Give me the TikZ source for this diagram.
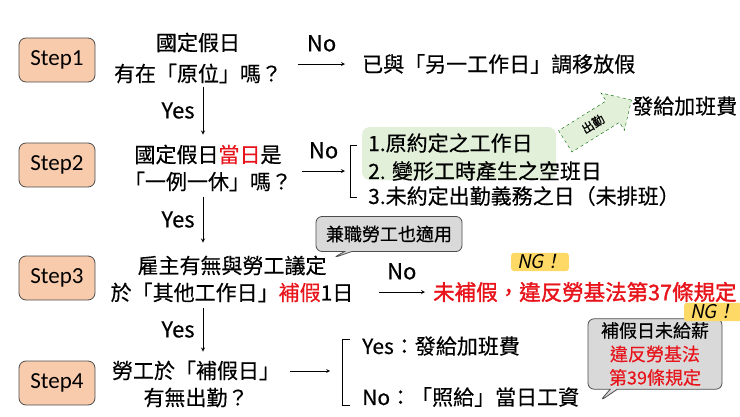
\documentclass[tikz,border=0pt]{standalone}
\usepackage{fontspec}
\newfontfamily\cjk[FakeBold=0.4]{Noto Sans CJK TC}
\newfontfamily\cjkheavy[FakeBold=1.6]{Noto Sans CJK TC}
\newfontfamily\stepfont{Carlito}
\newfontfamily\ngfont[FakeSlant=0.2]{Noto Sans CJK TC}
\usetikzlibrary{positioning,shapes.arrows,shapes.callouts}
\definecolor{stepfill}{HTML}{F8CBAD}
\definecolor{greenbg}{HTML}{E2F0D9}
\definecolor{notered}{HTML}{E8141B}
\definecolor{callgray}{HTML}{D9D9D9}
\definecolor{ngyellow}{HTML}{FFD966}
\begin{document}
\begin{tikzpicture}[x=1pt,y=-1pt,>=stealth,
        stepbox/.style={draw=black!70,fill=stepfill,rounded corners=7pt,line width=0.8pt,
            minimum width=76pt,minimum height=44pt,font=\stepfont\fontsize{23}{26}\selectfont},
        txt/.style={font=\cjk\fontsize{21}{27}\selectfont,align=center,inner sep=0pt},
        lab/.style={font=\cjk\fontsize{22}{24}\selectfont,inner sep=0pt},
        say/.style={rectangle callout,draw=black!70,fill=callgray,rounded corners=6pt,
            line width=0.8pt,font=\cjk\fontsize{18}{23.5}\selectfont,align=center},
        ng/.style={fill=ngyellow,rounded corners=3pt,font=\ngfont\fontsize{19}{22}\selectfont,
            inner xsep=6pt,inner ysep=2pt}]
    \useasboundingbox (0,0) rectangle (740,416);
    \coordinate (col) at (203,0);

    % steps
    \node[stepbox] (s1) at (57,60) {Step1};
    \node[stepbox] (s2) at (57,165) {Step2};
    \node[stepbox] (s3) at (57,278) {Step3};
    \node[stepbox] (s4) at (57,383) {Step4};

    % questions
    \node[txt] (q1) at (198,58) {國定假日\\[4pt]有在「原位」嗎？};
    \node[txt] (q2) at (208,168) {國定假日\textcolor{notered}{當日}是\\「一例一休」嗎？};
    \node[txt] (q3) at (232,279) {雇主有無與勞工議定\\於「其他工作日」\textcolor{notered}{補假}1日};
    \node[txt] (q4) at (196,384) {勞工於「補假日」\\有無出勤？};

    % step1 answer
    \node[txt,anchor=west] (r1) at (362,64) {已與「另一工作日」調移放假};
    \draw[->,thick] ([xshift=16pt]q1.east |- r1) -- ([xshift=-17pt]r1.west)
        node[midway,above=12pt,lab] {No};

    % step2 answer
    \fill[greenbg,rounded corners=8pt] (362,127) rectangle (556,180);
    \node[txt,anchor=west] (n1) at (368,143) {1.原約定之工作日};
    \node[txt,anchor=west] (n2) at (368,171) {2. 變形工時產生之空班日};
    \node[txt,anchor=west] (n3) at (368,196) {3.未約定出勤義務之日（未排班）};
    \draw[thick] (357,145) -- (350,145) -- (350,197) -- (357,197);
    \draw[->,thick] ([xshift=10pt]q2.east |- n2) -- (345,171)
        node[midway,above=12pt,lab] {No};
    \node[single arrow,draw=green!40!black,dashed,fill=greenbg,rotate=32,
        minimum height=78pt,minimum width=44pt,single arrow head extend=8pt,inner sep=5pt,
        font=\cjk\fontsize{12}{14}\selectfont] (go) at (593,124) {出勤};
    \node[txt,anchor=west] (pay1) at (632,106) {發給加班費};

    % step3 answer
    \coordinate (p1) at (333,258);
    \node[say,minimum width=146pt,minimum height=35pt,callout absolute pointer={(p1)}]
        (c1) at (389,234) {兼職勞工也適用};
    \node[txt,anchor=west,text=notered,font=\cjkheavy\fontsize{21.5}{27}\selectfont]
        (r3) at (433,292) {未補假，違反勞基法第37條規定};
    \draw[->,thick] ([xshift=25pt]q3.east |- r3) -- ([xshift=-8pt]r3.west)
        node[midway,above=12pt,lab] {No};
    \node[ng] (ng1) at (540,262) {NG！};

    % step4 answer
    \node[txt,anchor=west] (y4) at (362,346) {Yes：發給加班費};
    \node[txt,anchor=west] (n4) at (362,397) {No：「照給」當日工資};
    \draw[thick] (350,339) -- (342,339) -- (342,405) -- (350,405);
    \draw[->,thick] ([xshift=10pt,yshift=13pt]q4.east) -- ([xshift=50pt,yshift=13pt]q4.east);
    \coordinate (p2) at (600,401);
    \node[say,minimum width=134pt,minimum height=70pt,callout absolute pointer={(p2)}]
        (c2) at (655,354) {補假日未給薪\\\textcolor{notered}{違反勞基法}\\\textcolor{notered}{第39條規定}};
    \node[ng] (ng2) at (713,312) {NG！};

    % yes arrows
    \draw[->,thick] ([yshift=-3pt]q1.south -| col) -- ([yshift=10pt]q2.north -| col)
        node[midway,left=8pt,lab] {Yes};
    \draw[->,thick] ([yshift=-5pt]q2.south -| col) -- ([yshift=13pt]q3.north -| col)
        node[midway,left=8pt,lab] {Yes};
    \draw[->,thick] ([yshift=-5pt]q3.south -| col) -- ([yshift=9pt]q4.north -| col)
        node[midway,left=8pt,lab] {Yes};
\end{tikzpicture}
\end{document}
